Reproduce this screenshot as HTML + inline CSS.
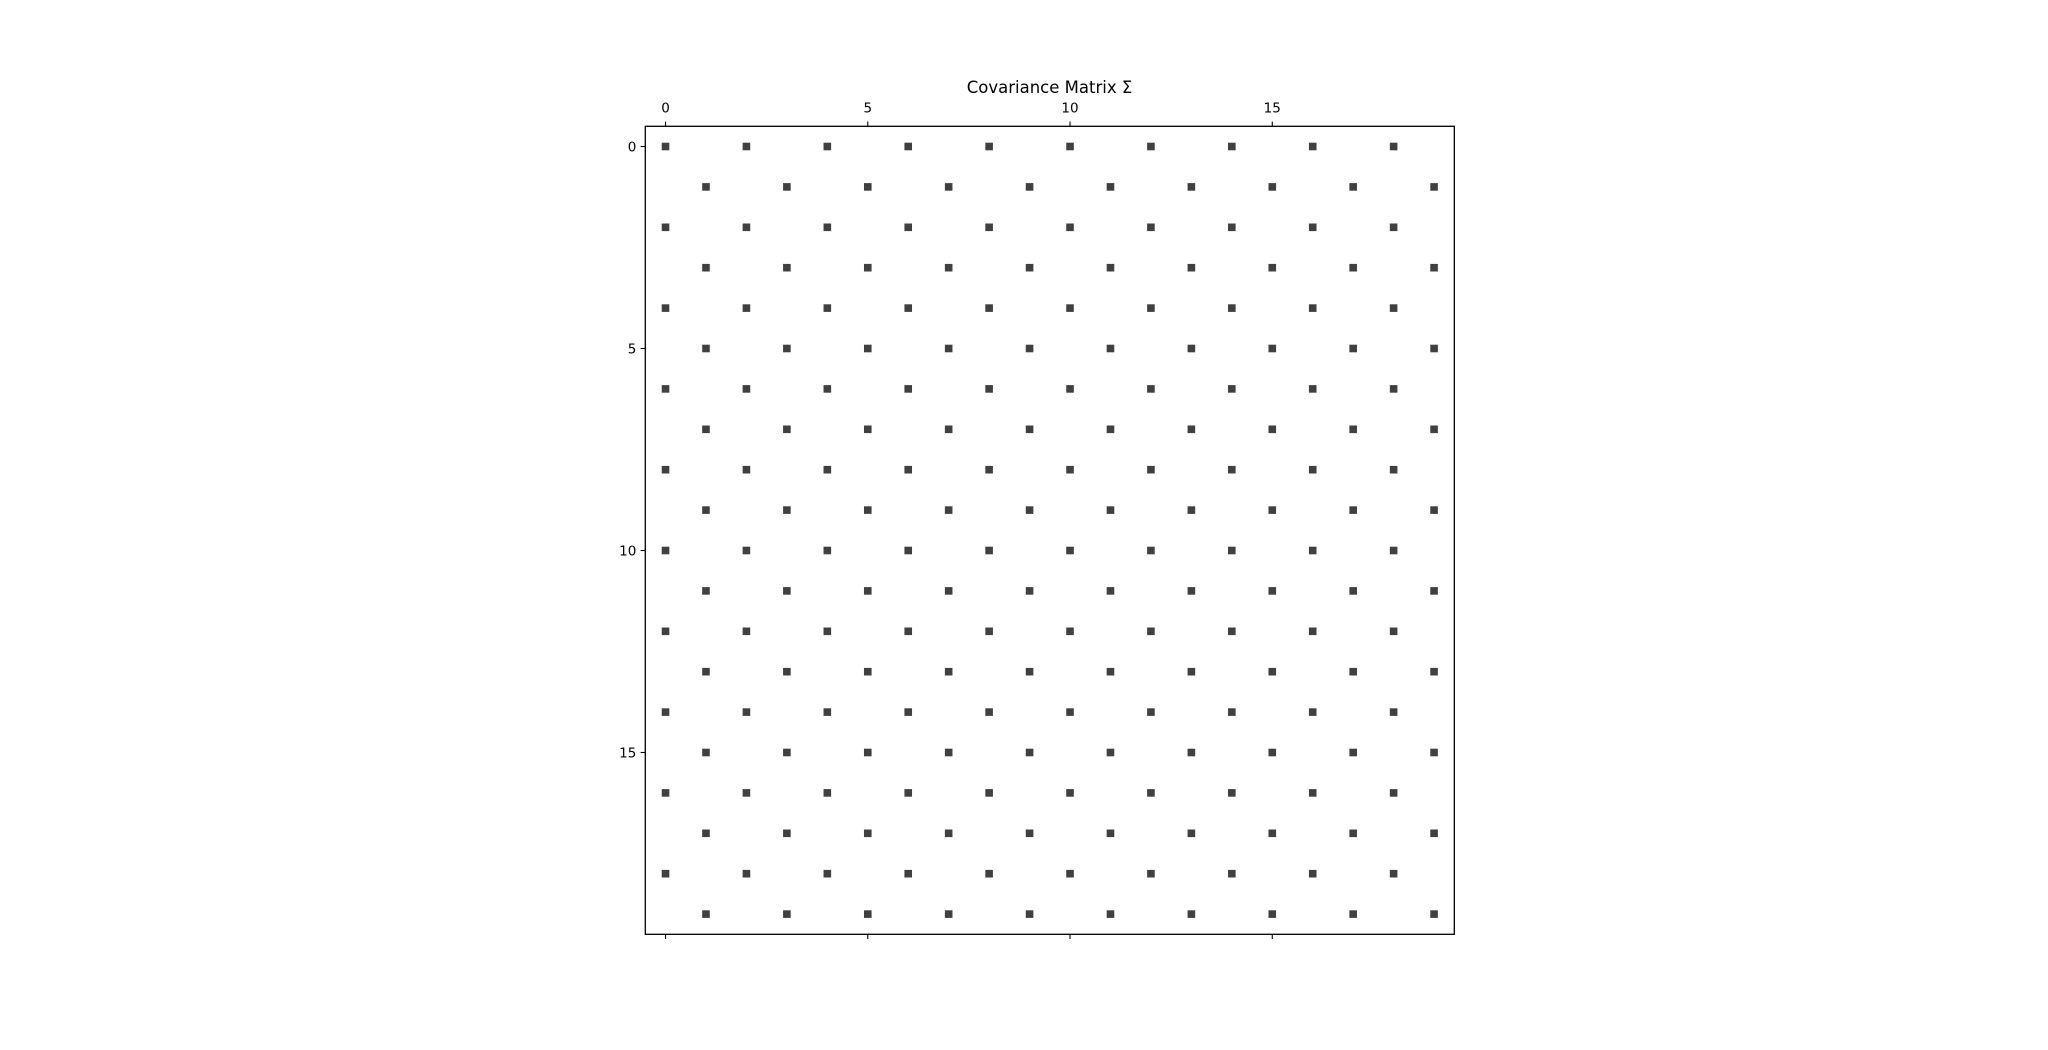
<!DOCTYPE html>
<html><head><meta charset="utf-8"><style>body{margin:0;background:#fff}svg{display:block}</style></head>
<body>
<svg id="chart" width="2048" height="1050" xmlns="http://www.w3.org/2000/svg" font-family="'DejaVu Sans','Liberation Sans',sans-serif">
<rect width="2048" height="1050" fill="#fff"/>
<text x="1049.5" y="93" font-size="16.5" text-anchor="middle" fill="#000">Covariance Matrix Σ</text>
<g id="marks"></g>
<rect x="645.3" y="126.3" width="809" height="808" fill="none" stroke="#000" stroke-width="1.3"/>
<g id="ticks"></g>
</svg>
<script>
const rowIdx = [0,1,2,3,4,5,6,7,8,9,10,11,12,13,14,15,16,17,18,19];
const colIdx = [0,1,2,3,4,5,6,7,8,9,10,11,12,13,14,15,16,17,18,19];
const tickVals = [0,5,10,15];
const tickLabels = ["0","5","10","15"];
// nonzero pattern: entries where (row+col) is even
const nonzero = rowIdx.map(r => colIdx.map(c => ((r + c) % 2 === 0) ? 1 : 0));

const L=645.3,T=126.3,W=809,H=808,N=20;
const xs = c => L + (c + 0.5) * W / N;
const ys = r => T + (r + 0.5) * H / N;
const NS="http://www.w3.org/2000/svg";
const marks=document.getElementById('marks');
const ticks=document.getElementById('ticks');
rowIdx.forEach(r=>colIdx.forEach(c=>{
  if(!nonzero[r][c]) return;
  const m=document.createElementNS(NS,'rect');
  m.setAttribute('x',xs(c)-3.8);m.setAttribute('y',ys(r)-3.8);
  m.setAttribute('width',7.6);m.setAttribute('height',7.6);
  m.setAttribute('fill','#404040');
  
  
  marks.appendChild(m);
}));
function line(x1,y1,x2,y2){const l=document.createElementNS(NS,'line');l.setAttribute('x1',x1);l.setAttribute('y1',y1);l.setAttribute('x2',x2);l.setAttribute('y2',y2);l.setAttribute('stroke','#000');l.setAttribute('stroke-width',1.1);ticks.appendChild(l);return l;}
function text(x,y,s,anchor){const t=document.createElementNS(NS,'text');t.setAttribute('x',x);t.setAttribute('y',y);t.setAttribute('font-size',13.5);t.setAttribute('text-anchor',anchor);t.setAttribute('fill','#000');t.textContent=s;ticks.appendChild(t);return t;}
tickVals.forEach((v,i)=>{
  const x=xs(v), y=ys(v);
  let a=line(x,T,x,T-4.7);
  
  
  let b=line(x,T+H,x,T+H+4.7);
  
  
  let c=line(L,y,L-4.7,y);
  
  
  let t1=text(x,T-14,tickLabels[i],'middle');
  
  
  let t2=text(L-9,y+5,tickLabels[i],'end');
  
  
});
</script>
</body></html>
